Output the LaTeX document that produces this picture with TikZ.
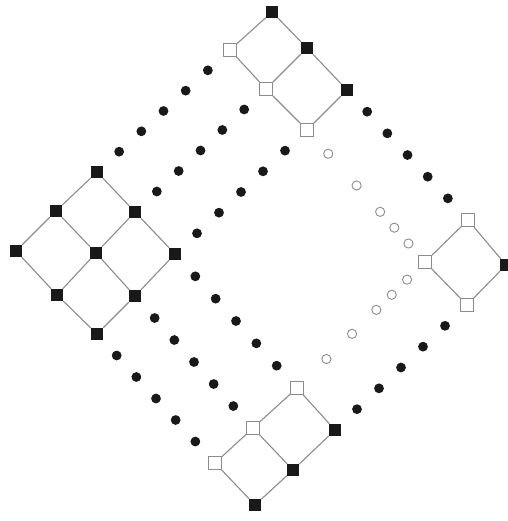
\documentclass[tikz,border=0pt]{standalone}
\usepackage{tikz}
\usetikzlibrary{decorations.markings}
\newcommand{\hollowdot}{\draw[gray!90, line width=0.9pt] (0,0) circle (4.6pt);}

\begin{document}
\begin{tikzpicture}[x=1pt, y=-1pt,
    bsq/.style={fill=black!90, minimum size=12pt, inner sep=0pt},
    wsq/.style={draw=gray!90, fill=white, line width=0.9pt, minimum size=13pt, inner sep=0pt},
    link/.style={draw=gray!90, line width=1.1pt},
    dotrow/.style={decoration={markings,
        mark=between positions 0.1667 and 0.86 step 0.1667 with {\fill[black!90] (0,0) circle (4.9pt);}}, decorate},
    ringrow/.style={decoration={markings,
        mark=at position 0.18 with {\hollowdot}, mark=at position 0.42 with {\hollowdot},
        mark=at position 0.62 with {\hollowdot}, mark=at position 0.74 with {\hollowdot},
        mark=at position 0.86 with {\hollowdot}}, decorate},
    ringrowlow/.style={decoration={markings,
        mark=at position 0.23 with {\hollowdot}, mark=at position 0.43 with {\hollowdot},
        mark=at position 0.62 with {\hollowdot}, mark=at position 0.74 with {\hollowdot},
        mark=at position 0.86 with {\hollowdot}}, decorate}]
    \useasboundingbox (0,0) rectangle (507,521);

    % left block
    \node[bsq] (L1) at (97, 172) {};
    \node[bsq] (L2) at (56, 211) {};
    \node[bsq] (L3) at (135, 212) {};
    \node[bsq] (L4) at (16, 251) {};
    \node[bsq] (L5) at (96, 253) {};
    \node[bsq] (L6) at (175, 254) {};
    \node[bsq] (L7) at (57, 295) {};
    \node[bsq] (L8) at (135, 296) {};
    \node[bsq] (L9) at (97, 334) {};

    % top block
    \node[bsq] (T1) at (272, 12) {};
    \node[wsq] (T2) at (230, 50) {};
    \node[bsq] (T3) at (307, 48) {};
    \node[wsq] (T4) at (266, 89) {};
    \node[bsq] (T5) at (347, 90) {};
    \node[wsq] (T6) at (307, 130) {};

    % right block
    \node[wsq] (R1) at (468, 220) {};
    \node[wsq] (R2) at (425, 262) {};
    \node[bsq] (R3) at (506, 265) {};
    \node[wsq] (R4) at (467, 305) {};

    % bottom block
    \node[wsq] (B1) at (297, 388) {};
    \node[wsq] (B2) at (253, 428) {};
    \node[bsq] (B3) at (335, 430) {};
    \node[wsq] (B4) at (215, 463) {};
    \node[bsq] (B5) at (293, 470) {};
    \node[bsq] (B6) at (255, 505) {};

    % Edges
    \draw[link] (L1) -- (L2);  \draw[link] (L1) -- (L3);
    \draw[link] (L2) -- (L4);  \draw[link] (L2) -- (L5);
    \draw[link] (L3) -- (L5);  \draw[link] (L3) -- (L6);
    \draw[link] (L4) -- (L7);  \draw[link] (L5) -- (L7);
    \draw[link] (L5) -- (L8);  \draw[link] (L6) -- (L8);
    \draw[link] (L7) -- (L9);  \draw[link] (L8) -- (L9);
    \draw[link] (T1) -- (T2);  \draw[link] (T1) -- (T3);
    \draw[link] (T2) -- (T4);  \draw[link] (T3) -- (T4);
    \draw[link] (T3) -- (T5);  \draw[link] (T4) -- (T6);
    \draw[link] (T5) -- (T6);
    \draw[link] (R1) -- (R2);  \draw[link] (R1) -- (R3);
    \draw[link] (R2) -- (R4);  \draw[link] (R3) -- (R4);
    \draw[link] (B1) -- (B2);  \draw[link] (B1) -- (B3);
    \draw[link] (B2) -- (B4);  \draw[link] (B2) -- (B5);
    \draw[link] (B3) -- (B5);  \draw[link] (B4) -- (B6);
    \draw[link] (B5) -- (B6);

    % Dotted rows
    \path[dotrow] (L1.center) -- (T2.center);
    \path[dotrow] (L3.center) -- (T4.center);
    \path[dotrow] (L6.center) -- (T6.center);
    \path[dotrow] (L6.center) -- (B1.center);
    \path[dotrow] (L8.center) -- (B2.center);
    \path[dotrow] (L9.center) -- (B4.center);
    \path[dotrow] (T5.center) -- (R1.center);
    \path[dotrow] (B3.center) -- (R4.center);

    % Hollow rows
    \path[ringrow] (T6.center) -- (R2.center);
    \path[ringrowlow] (B1.center) -- (R2.center);
\end{tikzpicture}
\end{document}
